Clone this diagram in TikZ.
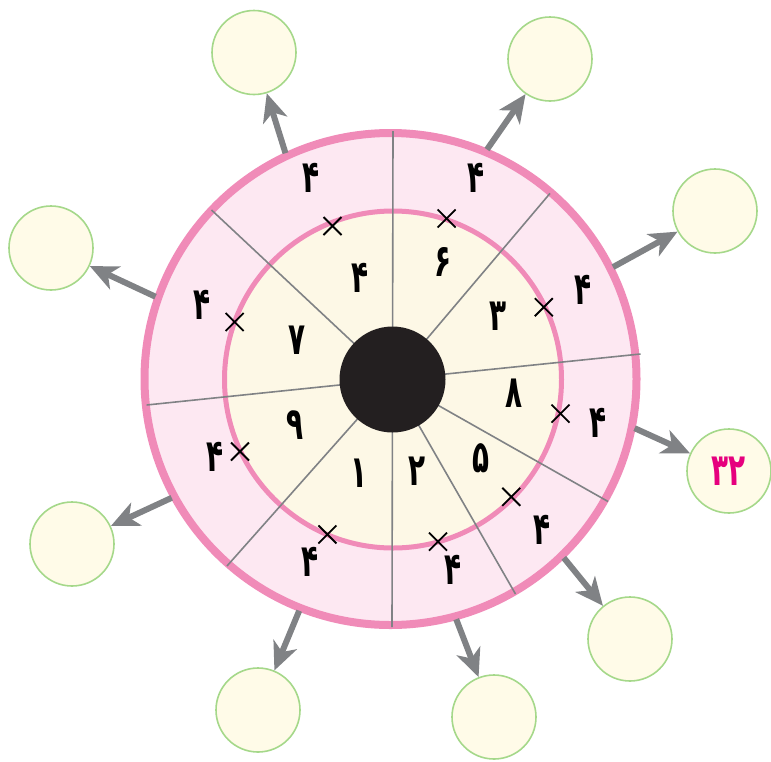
\documentclass[tikz,border=0pt]{standalone}
\usepackage{fontspec}
\usetikzlibrary{arrows.meta,calc}
\newfontfamily\fa[Script=Arabic]{DejaVu Sans}
\definecolor{pinkline}{HTML}{F08BB8}
\definecolor{ringfill}{HTML}{FDE8F2}
\definecolor{innerfill}{HTML}{FDF8E6}
\definecolor{dotcol}{HTML}{231F20}
\definecolor{greyline}{HTML}{808285}
\definecolor{greenline}{HTML}{A5D88A}
\definecolor{greenfill}{HTML}{FFFBE8}
\definecolor{magentatext}{HTML}{E6007E}
\newcommand{\fd}[1]{\scalebox{0.9}[1.45]{#1}}
\tikzset{
  radial/.style={draw=greyline, line width=1.6pt},
  arr/.style={draw=greyline, line width=6pt, -{Stealth[length=28pt,width=25pt,inset=8pt]}},
  gc/.style={circle, draw=greenline, fill=greenfill, line width=1.6pt, minimum size=84pt, inner sep=0pt},
  num/.style={font=\fa\bfseries\fontsize{31}{31}\selectfont, text=black, inner sep=0pt},
  crossmark/.style={draw=black, line width=1.8pt},
}
\newcommand{\crossat}[1]{\draw[crossmark] ($(#1)+(-9,-9)$) -- ($(#1)+(9,9)$) ($(#1)+(-9,9)$) -- ($(#1)+(9,-9)$);}
\begin{document}
\begin{tikzpicture}[x=1pt,y=-1pt]
\useasboundingbox (0,0) rectangle (771,761);
% rings
\coordinate (C) at (390.5,379);
\coordinate (Ci) at (393,379.5);
\coordinate (D) at (392.5,379.5);
\fill[ringfill] (C) circle[radius=246pt];
\fill[innerfill] (Ci) circle[radius=168.5pt];
\draw[pinkline, line width=8pt] (C) circle[radius=246pt];
\draw[pinkline, line width=5pt] (Ci) circle[radius=168.5pt];
% radial lines
\coordinate (e1) at (393,131);
\coordinate (e2) at (550,193.4);
\coordinate (e3) at (640.5,354);
\coordinate (e4) at (608,501.5);
\coordinate (e5) at (515.5,594);
\coordinate (e6) at (392,627);
\coordinate (e7) at (227,566);
\coordinate (e8) at (146.6,405);
\coordinate (e9) at (211.5,210);
\foreach \i in {1,...,9} {\draw[radial] (D) -- (e\i);}
\node[circle, fill=dotcol, minimum size=106pt, inner sep=0pt] (dot) at (D) {};
% crosses
\coordinate (x1) at (332.5,226);
\coordinate (x2) at (446.6,218.5);
\coordinate (x3) at (543.8,307.2);
\coordinate (x4) at (560.5,413.7);
\coordinate (x5) at (511.3,496.8);
\coordinate (x6) at (438,541.7);
\coordinate (x7) at (327.4,534.4);
\coordinate (x8) at (240,451.5);
\coordinate (x9) at (234.7,322);
\foreach \i in {1,...,9} {\crossat{x\i}}
% inner numbers
\node[num] (n4) at (360,278.3) {\fd{۴}};
\node[num] (n6) at (443.3,261.7) {\fd{۶}};
\node[num] (n3) at (498.3,316.7) {\fd{۳}};
\node[num] (n8) at (514,393.3) {\fd{۸}};
\node[num] (n5) at (480.7,458.3) {\fd{۵}};
\node[num] (n2) at (416.7,471.7) {\fd{۲}};
\node[num] (n1) at (359.3,473.3) {\fd{۱}};
\node[num] (n9) at (295,425) {\fd{۹}};
\node[num] (n7) at (297,340) {\fd{۷}};
% outer numbers
\node[num] (o1) at (310.7,178.3) {\fd{۴}};
\node[num] (o2) at (476,178.3) {\fd{۴}};
\node[num] (o3) at (582.7,290) {\fd{۴}};
\node[num] (o4) at (598.3,423.3) {\fd{۴}};
\node[num] (o5) at (541.7,530) {\fd{۴}};
\node[num] (o6) at (453.3,570) {\fd{۴}};
\node[num] (o7) at (310,561.7) {\fd{۴}};
\node[num] (o8) at (215,456.7) {\fd{۴}};
\node[num] (o9) at (201.7,305) {\fd{۴}};
% green circles
\node[gc] (g1) at (254,52.5) {};
\node[gc] (g2) at (550,59) {};
\node[gc] (g3) at (715,211) {};
\node[gc] (g4) at (729,471) {};
\node[gc] (g5) at (630,639) {};
\node[gc] (g6) at (494,717) {};
\node[gc] (g7) at (258,710) {};
\node[gc] (g8) at (72,544) {};
\node[gc] (g9) at (51,248) {};
\node[num, text=magentatext] (t32) at (g4) {\fd{۳۲}};
% arrows
\coordinate (s1) at (285.5,153.2);
\coordinate (s2) at (487,149.5);
\coordinate (s3) at (613,267.1);
\coordinate (s4) at (634.6,428.2);
\coordinate (s5) at (563.8,557.8);
\coordinate (s6) at (456.2,619.2);
\coordinate (s7) at (299.2,610.7);
\coordinate (s8) at (171.7,497.8);
\coordinate (s9) at (155.5,296.7);
\foreach \i in {1,...,9} {\draw[arr] (s\i) -- (g\i);}
\end{tikzpicture}
\end{document}
